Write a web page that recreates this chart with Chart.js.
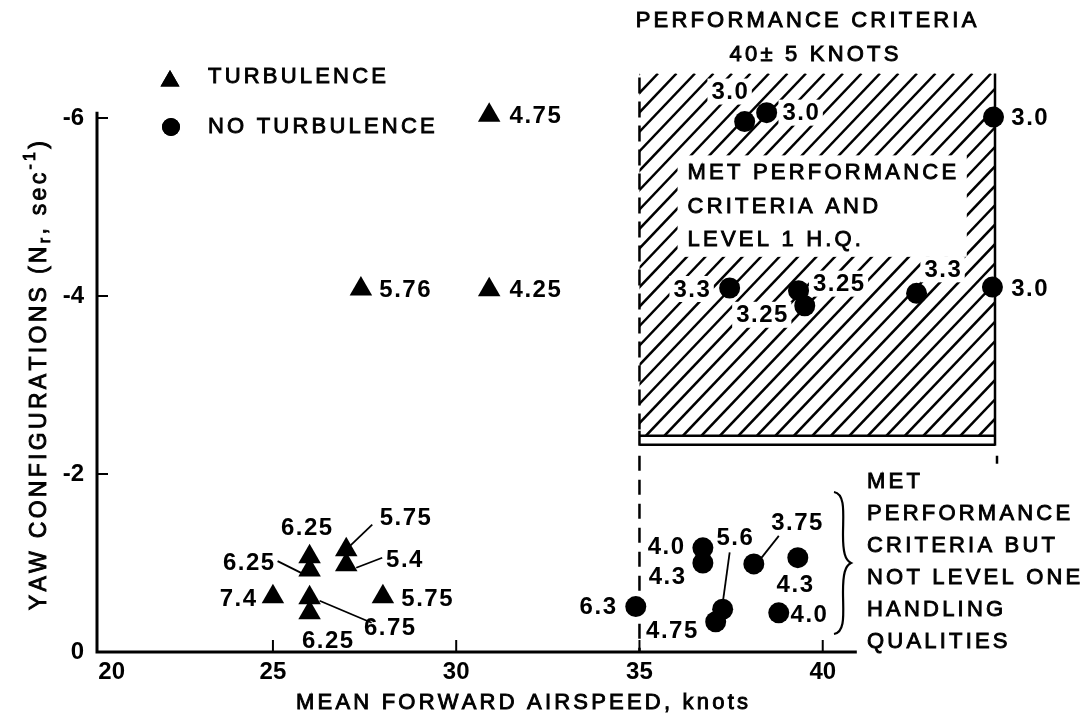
<!DOCTYPE html>
<html>
<head>
<meta charset="utf-8">
<script src="https://cdn.jsdelivr.net/npm/chart.js@4.4.1/dist/chart.umd.min.js"></script>
<style>
html,body{margin:0;padding:0;background:#fff;}
#wrap{position:relative;width:1091px;height:719px;}
canvas{display:block;}
</style>
</head>
<body>
<div id="wrap"><canvas id="chart" width="1091" height="719"></canvas></div>
<script>
// ---------------- data ----------------
const xTickValues = [20, 25, 30, 35, 40];
const yTickValues = [0, -2, -4, -6];

// TURBULENCE (triangles)
const turbX = [30.9, 27.4, 30.9, 25.0, 26.0, 26.0, 27.0, 27.0, 26.0, 26.0, 28.0];
const turbY = [-6.03, -4.08, -4.07, -0.62, -1.07, -0.92, -1.15, -0.98, -0.61, -0.44, -0.62];
const turbLabels = ['4.75', '5.76', '4.25', '7.4', '6.25', '6.25', '5.75', '5.4', '6.75', '6.25', '5.75'];

// NO TURBULENCE (circles)
const calmX = [37.87, 38.47, 44.66, 37.46, 39.34, 39.51, 42.56, 44.63, 36.73, 36.73, 34.9, 37.27, 37.08, 38.12, 39.32, 38.80];
const calmY = [-5.96, -6.06, -6.01, -4.09, -4.06, -3.89, -4.03, -4.10, -1.17, -1.0, -0.51, -0.48, -0.34, -0.99, -1.06, -0.44];
const calmLabels = ['3.0', '3.0', '3.0', '3.3', '3.25', '3.25', '3.3', '3.0', '4.0', '4.3', '6.3', '5.6', '4.75', '3.75', '4.3', '4.0'];

// performance-criteria band (40 +/- 5 knots) and its text cut-out, in data units
const bandX = [35, 44.7];
const bandY = [-2.43, -6.5];
const cutX = [36.04, 43.93];
const cutY = [-4.44, -5.58];

// ---------------- layout (pixel offsets of labels) ----------------
const turbLabelOff = [[46,0],[44,0],[46,0],[-35,2],[-3,-29],[-61,-8],[59,-32],[58,-5],[80,30],[18,28],[44,2]];
const turbLeader = {5:[-32,-9,-8,3], 6:[26,-25,3,-3], 7:[36,-7,10,3], 8:[10,3,62,25]};
const calmLabelOff = [[-15,-30],[34,0],[36,0],[-38,1],[40,-7],[-43,9],[26,-24],[37,1],[-37,-1],[-36,13],[-38,0],[12,-72],[-44,9],[43,-42],[-3,27],[30,2]];
const calmLeader = {11:[7,-57,0,-6], 13:[25,-28,6,-4]};

const FF = '"Liberation Sans", Arial, Helvetica, sans-serif';
const LABEL_FONT = 'bold 24px ' + FF;
const NOTE_FONT = '22px ' + FF;

function spaced(ctx, text, x, y, sp, align, stroke) {
  const chars = Array.from(text);
  const ws = chars.map(c => ctx.measureText(c).width);
  const w = ws.reduce((a, b) => a + b, 0) + sp * (chars.length - 1);
  let sx = align === 'center' ? x - w / 2 : (align === 'right' ? x - w : x);
  ctx.textAlign = 'left';
  chars.forEach((c, i) => {
    ctx.fillText(c, sx, y);
    if (stroke) { ctx.lineWidth = stroke; ctx.strokeText(c, sx, y); }
    sx += ws[i] + sp;
  });
  return w;
}
function measureSpaced(ctx, text, sp) {
  const chars = Array.from(text);
  return chars.reduce((a, c) => a + ctx.measureText(c).width, 0) + sp * (chars.length - 1);
}
function note(ctx, text, x, y, align) {
  ctx.font = NOTE_FONT; ctx.fillStyle = '#000'; ctx.strokeStyle = '#000';
  ctx.textBaseline = 'middle';
  spaced(ctx, text, x, y, 3.2, align || 'left', 0.9);
}

function labelBoxes(chart, xs, ys, labels, offs, cb) {
  const xs_ = chart.scales.x, ys_ = chart.scales.y;
  labels.forEach((t, i) => {
    const px = xs_.getPixelForValue(xs[i]) + offs[i][0];
    const py = ys_.getPixelForValue(ys[i]) + offs[i][1];
    cb(t, px, py, i);
  });
}

const decor = {
  id: 'decor',
  beforeDatasetsDraw(chart) {
    const { ctx, scales: { x, y } } = chart;
    const L = x.getPixelForValue(bandX[0]), R = x.getPixelForValue(bandX[1]);
    const T = y.getPixelForValue(bandY[1]), B = y.getPixelForValue(bandY[0]);
    ctx.save();
    // hatching
    ctx.save();
    ctx.beginPath(); ctx.rect(L, T, R - L, B - T); ctx.clip();
    ctx.strokeStyle = '#000'; ctx.lineWidth = 2.5;
    const H = B - T, slope = 1.05;
    for (let k = L - H / slope; k < R + 20; k += 18.5) {
      ctx.beginPath(); ctx.moveTo(k, B); ctx.lineTo(k + H / slope, T); ctx.stroke();
    }
    ctx.restore();
    // white cut-out for inner text
    const cL = x.getPixelForValue(cutX[0]), cR = x.getPixelForValue(cutX[1]);
    const cT = y.getPixelForValue(cutY[1]), cB = y.getPixelForValue(cutY[0]);
    ctx.fillStyle = '#fff';
    ctx.fillRect(cL, cT, cR - cL, cB - cT);
    // white backgrounds behind labels inside the band
    ctx.font = LABEL_FONT;
    const bg = (t, px, py) => {
      const w = measureSpaced(ctx, t, 1.5);
      ctx.fillRect(px - w / 2 - 4, py - 13, w + 8, 26);
    };
    labelBoxes(chart, calmX, calmY, calmLabels, calmLabelOff, bg);
    // band edges
    ctx.strokeStyle = '#000'; ctx.lineWidth = 2.5;
    ctx.setLineDash([16, 8]);
    ctx.beginPath(); ctx.moveTo(L, T + 4); ctx.lineTo(L, B); ctx.stroke();
    ctx.setLineDash([]);
    ctx.beginPath(); ctx.moveTo(R, T); ctx.lineTo(R, B + 10); ctx.stroke();
    ctx.beginPath(); ctx.moveTo(L, B); ctx.lineTo(R, B); ctx.stroke();
    ctx.beginPath(); ctx.moveTo(L, B + 9); ctx.lineTo(R, B + 9); ctx.stroke();
    ctx.beginPath(); ctx.moveTo(L, B - 5); ctx.lineTo(L, B + 10); ctx.stroke();
    // dashed extensions below the band
    const y0 = y.getPixelForValue(0);
    ctx.setLineDash([15, 9]);
    ctx.beginPath(); ctx.moveTo(L, B + 20); ctx.lineTo(L, y0); ctx.stroke();
    ctx.setLineDash([]);
    ctx.beginPath(); ctx.moveTo(R + 2, B + 20); ctx.lineTo(R + 2, B + 28); ctx.stroke();
    ctx.restore();
  },
  afterDatasetsDraw(chart) {
    const { ctx, chartArea, scales: { x, y } } = chart;
    ctx.save();
    // axes
    const y0 = y.getPixelForValue(0), xl = chartArea.left;
    ctx.strokeStyle = '#000'; ctx.lineWidth = 3;
    ctx.beginPath();
    ctx.moveTo(xl, y.getPixelForValue(-6.07));
    ctx.lineTo(xl, y0);
    ctx.lineTo(x.getPixelForValue(40.93), y0);
    ctx.stroke();
    ctx.lineWidth = 2;
    xTickValues.filter(v => v > 20).forEach(v => {
      const px = x.getPixelForValue(v);
      ctx.beginPath(); ctx.moveTo(px, y0); ctx.lineTo(px, y0 - 12); ctx.stroke();
    });
    yTickValues.filter(v => v < 0).forEach(v => {
      const py = y.getPixelForValue(v);
      ctx.beginPath(); ctx.moveTo(xl, py); ctx.lineTo(xl + 11, py); ctx.stroke();
    });
    // leaders
    ctx.lineWidth = 1.8;
    const lead = (xs, ys, map) => Object.keys(map).forEach(k => {
      const i = +k, s = map[k];
      const px = x.getPixelForValue(xs[i]), py = y.getPixelForValue(ys[i]);
      ctx.beginPath(); ctx.moveTo(px + s[0], py + s[1]); ctx.lineTo(px + s[2], py + s[3]); ctx.stroke();
    });
    lead(turbX, turbY, turbLeader);
    lead(calmX, calmY, calmLeader);
    // point labels
    ctx.font = LABEL_FONT; ctx.fillStyle = '#000'; ctx.textBaseline = 'middle';
    const draw = (t, px, py) => spaced(ctx, t, px, py + 1, 1.5, 'center');
    labelBoxes(chart, turbX, turbY, turbLabels, turbLabelOff, draw);
    labelBoxes(chart, calmX, calmY, calmLabels, calmLabelOff, draw);

    // legend
    const ds = chart.data.datasets;
    const drawPt = (style, r, cx, cy) => {
      Chart.helpers.drawPoint(ctx, { pointStyle: style, radius: r, rotation: 0, borderWidth: 0 }, cx, cy);
      ctx.fillStyle = '#000'; ctx.fill();
    };
    ctx.fillStyle = '#000';
    drawPt(ds[0].pointStyle, 11, 170, 81);
    drawPt(ds[1].pointStyle, 9, 171, 127);
    note(ctx, ds[0].label, 208, 77);
    note(ctx, ds[1].label, 208, 127);

    // top title
    note(ctx, 'PERFORMANCE CRITERIA', 806, 21, 'center');
    note(ctx, '40\u00B1 5 KNOTS', 814, 55, 'center');

    // inner note
    const cL = x.getPixelForValue(cutX[0]);
    note(ctx, 'MET PERFORMANCE', cL + 10, 173);
    note(ctx, 'CRITERIA AND', cL + 10, 207);
    note(ctx, 'LEVEL 1 H.Q.', cL + 10, 240);

    // right note with brace
    const rl = ['MET', 'PERFORMANCE', 'CRITERIA BUT', 'NOT LEVEL ONE', 'HANDLING', 'QUALITIES'];
    rl.forEach((t, i) => note(ctx, t, 867, 482 + i * 32));
    ctx.lineWidth = 2.2; ctx.strokeStyle = '#000';
    ctx.beginPath();
    ctx.moveTo(834, 492);
    ctx.bezierCurveTo(846, 494, 843, 515, 843, 535);
    ctx.bezierCurveTo(843, 552, 845, 560, 851, 563);
    ctx.bezierCurveTo(845, 566, 843, 574, 843, 592);
    ctx.bezierCurveTo(843, 612, 846, 632, 834, 634);
    ctx.stroke();

    // axis titles
    note(ctx, 'MEAN FORWARD AIRSPEED, knots', 522, 703, 'center');
    ctx.save();
    ctx.translate(40, 374);
    ctx.rotate(-Math.PI / 2);
    const segs = [['YAW CONFIGURATIONS (N', 23, 0], ['r', 16, 6], [', sec', 23, 0], ['-1', 16, -9], [')', 23, 0]];
    const sp = 3.3;
    let tw = 0;
    segs.forEach(s => { ctx.font = s[1] + 'px ' + FF; tw += measureSpaced(ctx, s[0], sp) + sp; });
    let cx = -tw / 2;
    ctx.textBaseline = 'middle'; ctx.fillStyle = '#000'; ctx.strokeStyle = '#000';
    segs.forEach(s => {
      ctx.font = s[1] + 'px ' + FF;
      cx += spaced(ctx, s[0], cx, s[2], sp, 'left', 0.9) + sp;
    });
    ctx.restore();

    ctx.restore();
  }
};

const tickFont = { family: FF, size: 24, weight: 'bold' };

new Chart(document.getElementById('chart'), {
  type: 'scatter',
  data: {
    datasets: [
      {
        label: 'TURBULENCE',
        data: turbX.map((v, i) => ({ x: v, y: turbY[i] })),
        pointStyle: 'triangle', pointRadius: 13, pointHoverRadius: 13,
        backgroundColor: '#000', borderColor: '#000', borderWidth: 0
      },
      {
        label: 'NO TURBULENCE',
        data: calmX.map((v, i) => ({ x: v, y: calmY[i] })),
        pointStyle: 'circle', pointRadius: 10.5, pointHoverRadius: 10.5,
        backgroundColor: '#000', borderColor: '#000', borderWidth: 0
      }
    ]
  },
  options: {
    responsive: false, animation: false, devicePixelRatio: 1,
    layout: { padding: { top: 73.5, right: 96, left: 0, bottom: 0 } },
    plugins: { legend: { display: false }, tooltip: { enabled: false } },
    clip: false,
    scales: {
      x: {
        type: 'linear', min: 20.2, max: 44.7,
        afterBuildTicks: s => { s.ticks = xTickValues.map(v => ({ value: v === 20 ? 20.6 : v })); },
        ticks: { font: tickFont, color: '#000', padding: 6, maxRotation: 0, autoSkip: false,
                 callback: v => (v === 20.6 ? '20' : String(v)) },
        grid: { display: false, drawTicks: false },
        border: { display: false },
        afterFit: s => { s.height = 67; }
      },
      y: {
        type: 'linear', min: -6.5, max: 0, reverse: true,
        afterBuildTicks: s => { s.ticks = yTickValues.map(v => ({ value: v })); },
        ticks: { font: tickFont, color: '#000', padding: 13, callback: v => String(v) },
        grid: { display: false, drawTicks: false },
        border: { display: false },
        afterFit: s => { s.width = 97; }
      }
    }
  },
  plugins: [decor]
});
</script>
</body>
</html>
